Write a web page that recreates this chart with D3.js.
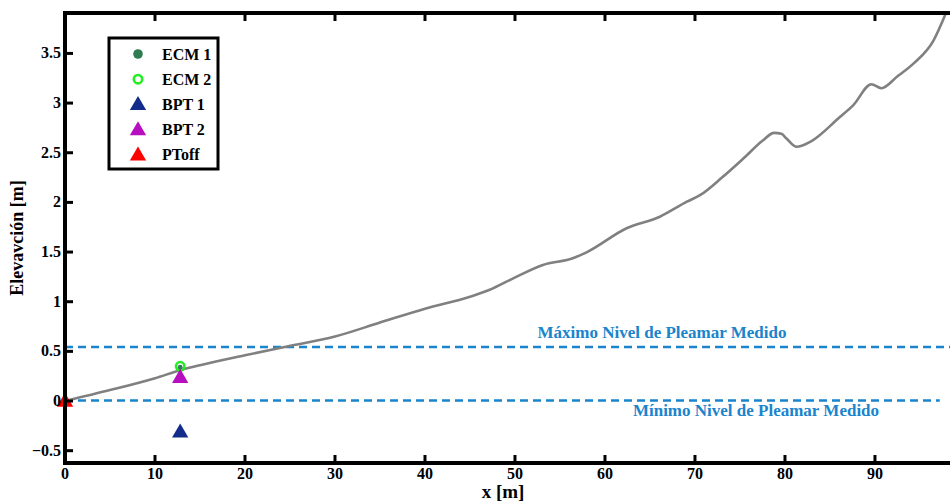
<!DOCTYPE html>
<html><head><meta charset="utf-8">
<script src="https://cdn.jsdelivr.net/npm/d3@7/dist/d3.min.js"></script>
<style>body{margin:0;background:#fff}svg{display:block}</style>
</head><body>
<svg id="c" width="950" height="503"></svg>
<script>
// Beach profile (x [m], elevation [m])
const profileX = [0,5,10,12.8,15,20,24.7,30,35,40,45,47.2,49.8,53.1,56.5,58,62.4,66.1,69.1,70.6,73,75.4,77.5,78.8,79.6,80.2,81.3,82.8,86.1,87.6,89.6,90.7,92.5,94.3,96.5,97.9];
const profileY = [0,0.11,0.23,0.31,0.36,0.46,0.55,0.65,0.79,0.93,1.05,1.12,1.235,1.37,1.44,1.50,1.74,1.856,2.007,2.075,2.25,2.444,2.62,2.70,2.69,2.64,2.56,2.61,2.86,2.98,3.19,3.15,3.27,3.40,3.63,3.91];
// Instruments
const instNames = ["ECM 1","ECM 2","BPT 1","BPT 2","PToff"];
const instX = [12.8,12.8,12.8,12.8,0];
const instY = [0.34,0.35,-0.31,0.24,0.0];
const instColor = ["#2e7d52","#22ee22","#132c8c","#b50fc0","#ff0000"];
const instShape = ["dot","ring","tri","tri","tri"];
// Reference levels
const levelNames = ["Máximo Nivel de Pleamar Medido","Mínimo Nivel de Pleamar Medido"];
const levelY = [0.545,0.005];
const levelXEnd = [98.6,97.2];
const xTicks = [0,10,20,30,40,50,60,70,80,90];
const yTicks = [-0.5,0,0.5,1,1.5,2,2.5,3,3.5];

const FONT = "'Liberation Serif', 'Times New Roman', Tinos, 'DejaVu Serif', serif";
const svg = d3.select("#c").attr("font-family",FONT).attr("font-weight","bold");
const L=65, R=953, T=13, B=463;
const x = d3.scaleLinear().domain([0,98.67]).range([L,R]);
const y = d3.scaleLinear().domain([-0.624,3.907]).range([B,T]);
const blue = "#1a84cc";

// reference dashed lines
levelY.forEach((v,i)=>{
  svg.append("line").attr("x1",x(0)).attr("x2",x(levelXEnd[i])).attr("y1",y(v)).attr("y2",y(v))
    .attr("stroke",blue).attr("stroke-width",2.5).attr("stroke-dasharray","8,5");
});
svg.append("text").attr("x",662).attr("y",y(levelY[0])-9).attr("text-anchor","middle")
  .attr("font-size",17).attr("font-family",FONT).attr("fill",blue).text(levelNames[0]);
svg.append("text").attr("x",756).attr("y",y(levelY[1])+15).attr("text-anchor","middle")
  .attr("font-size",17).attr("font-family",FONT).attr("fill",blue).text(levelNames[1]);

// profile
const line = d3.line().x(d=>x(d[0])).y(d=>y(d[1])).curve(d3.curveMonotoneX);
svg.append("path").datum(profileX.map((v,i)=>[v,profileY[i]])).attr("d",line)
  .attr("fill","none").attr("stroke","#808080").attr("stroke-width",2.6);

const tri = d3.symbol().type(d3.symbolTriangle).size(115);
function marker(g, shape, color, cx, cy){
  if(shape==="dot") g.append("circle").attr("cx",cx).attr("cy",cy).attr("r",4.8).attr("fill",color);
  else if(shape==="ring") g.append("circle").attr("cx",cx).attr("cy",cy).attr("r",4.2).attr("fill","none").attr("stroke",color).attr("stroke-width",2.6);
  else g.append("path").attr("d",tri()).attr("transform",`translate(${cx},${cy+1})`).attr("fill",color);
}
// data markers: ring, then small dark centre, then triangles
marker(svg,"ring",instColor[1],x(instX[1]),y(instY[1]));
svg.append("circle").attr("cx",x(instX[0])).attr("cy",y(instY[0])).attr("r",2.4).attr("fill",instColor[0]);
[2,3,4].forEach(i=>marker(svg,instShape[i],instColor[i],x(instX[i]),y(instY[i])));

// axes frame
const ax = svg.append("g");
ax.append("line").attr("x1",L).attr("x2",R).attr("y1",B).attr("y2",B).attr("stroke","#000").attr("stroke-width",4);
ax.append("line").attr("x1",L).attr("x2",R).attr("y1",T).attr("y2",T).attr("stroke","#000").attr("stroke-width",4);
ax.append("line").attr("x1",L).attr("x2",L).attr("y1",T-2).attr("y2",B+2).attr("stroke","#000").attr("stroke-width",4);

xTicks.forEach(t=>{
  if(t>0){
    ax.append("line").attr("x1",x(t)).attr("x2",x(t)).attr("y1",B).attr("y2",B-8).attr("stroke","#000").attr("stroke-width",3);
    ax.append("line").attr("x1",x(t)).attr("x2",x(t)).attr("y1",T).attr("y2",T+8).attr("stroke","#000").attr("stroke-width",3);
  }
  ax.append("text").attr("x",x(t)).attr("y",479).attr("text-anchor","middle").attr("font-size",16).attr("font-family",FONT).text(t);
});
yTicks.forEach(t=>{
  ax.append("line").attr("x1",L).attr("x2",L+8).attr("y1",y(t)).attr("y2",y(t)).attr("stroke","#000").attr("stroke-width",3);
  ax.append("text").attr("x",L-4).attr("y",y(t)+5).attr("text-anchor","end").attr("font-size",16).attr("font-family",FONT)
    .text(t<0?"\u2212"+Math.abs(t):t);
});
svg.append("text").attr("x",(L+R)/2-6).attr("y",498).attr("text-anchor","middle").attr("font-size",19).attr("font-family",FONT).text("x [m]");
svg.append("text").attr("transform",`translate(23,${(T+B)/2}) rotate(-90)`).attr("text-anchor","middle").attr("font-size",18).attr("font-family",FONT).text("Elevavción [m]");

// legend
const lg = svg.append("g");
lg.append("rect").attr("x",109).attr("y",38).attr("width",109).attr("height",131).attr("fill","#fff").attr("stroke","#000").attr("stroke-width",3);
instNames.forEach((n,i)=>{
  const cy = 54 + i*25.2;
  marker(lg, instShape[i], instColor[i], 138, cy);
  lg.append("text").attr("x",162).attr("y",cy+5.5).attr("font-size",16).attr("font-family",FONT).text(n);
});
</script>
</body></html>
